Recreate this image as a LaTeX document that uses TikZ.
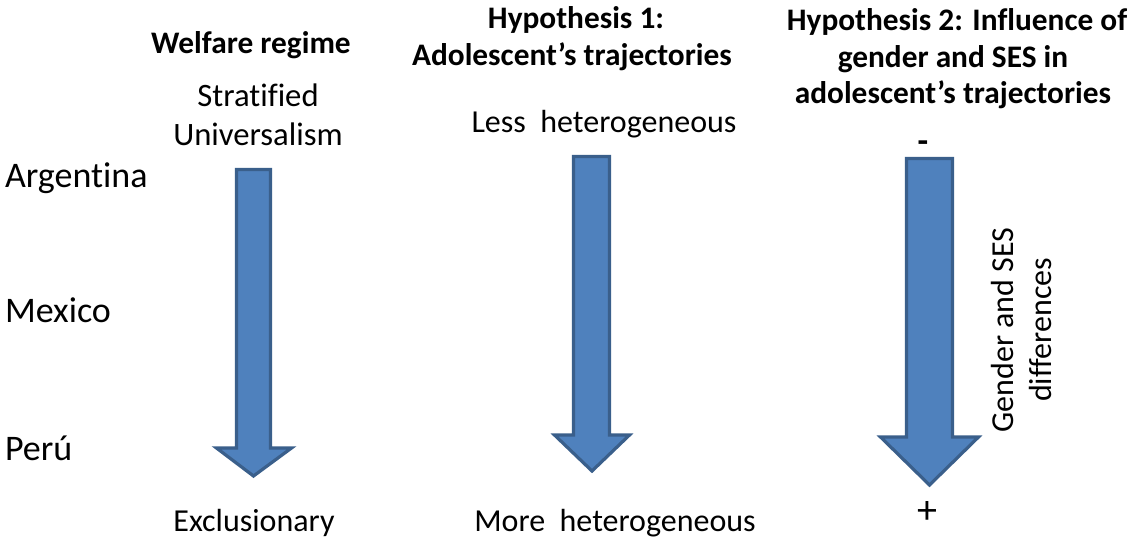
\documentclass[tikz,border=0pt]{standalone}
\usepackage{fontspec}
\setmainfont[Ligatures=NoCommon]{Carlito}
\definecolor{arrfill}{HTML}{4F81BD}
\definecolor{arrline}{HTML}{3A5F8B}
\begin{document}
\begin{tikzpicture}[x=0.75pt,y=-0.75pt,
  bigarrow/.style={fill=arrfill,draw=arrline,line width=2.4pt,line join=miter},
  lbl/.style={inner sep=0pt,outer sep=0pt,anchor=base,font=\fontsize{24pt}{30pt}\selectfont},
  country/.style={inner sep=0pt,outer sep=0pt,anchor=base west,font=\fontsize{27pt}{30pt}\selectfont},
  headtxt/.style={inner sep=0pt,outer sep=0pt,anchor=base,font=\fontsize{23.5pt}{28pt}\selectfont\bfseries}]
\useasboundingbox (0,0) rectangle (1134,540);
% arrows
\draw[bigarrow] (236.5,169.5) -- (270.5,169.5) -- (270.5,448) -- (291.5,448) -- (253.5,476) -- (216.5,448) -- (236.5,448) -- cycle;
\draw[bigarrow] (573.5,156.5) -- (609.5,156.5) -- (609.5,435) -- (629.5,435) -- (592,471) -- (554.5,435) -- (573.5,435) -- cycle;
\draw[bigarrow] (906.5,158.5) -- (952.5,158.5) -- (952.5,437) -- (978.5,437) -- (929.5,485) -- (880.5,437) -- (906.5,437) -- cycle;
% headings
\node[headtxt] (welfare) at (251,53) {Welfare regime};
\node[headtxt] (hypA1) at (576,28) {Hypothesis 1:};
\node[headtxt] (hypA2) at (572,65) {Adolescent’s trajectories};
\node[headtxt] (hypB1) at (957,30) {Hypothesis 2: Influence of};
\node[headtxt] (hypB2) at (953,67) {gender and SES in};
\node[headtxt] (hypB3) at (953,103) {adolescent’s trajectories};
% labels
\node[lbl,font=\fontsize{24.5pt}{30pt}\selectfont] (strat) at (258,106) {Stratified};
\node[lbl,font=\fontsize{24.5pt}{30pt}\selectfont] (univ) at (258,145) {Universalism};
\node[lbl] (less) at (604,132) {Less\ \ heterogeneous};
\node[lbl] (more) at (615,531) {More\ \ heterogeneous};
\node[lbl] (excl) at (254,531) {Exclusionary};
\node[lbl,font=\fontsize{26pt}{30pt}\selectfont\bfseries] (minus) at (923,152) {-};
\node[lbl,font=\fontsize{30pt}{30pt}\selectfont] (plus) at (927,523) {+};
% countries
\node[country] (arg) at (5,187) {Argentina};
\node[country] (mex) at (5,322) {Mexico};
\node[country] (per) at (5,460) {Perú};
% rotated text
\node[inner sep=0pt,rotate=90,align=center,font=\fontsize{24pt}{28.5pt}\selectfont] (gses) at (1021,330) {Gender and SES\\differences};
\end{tikzpicture}
\end{document}
